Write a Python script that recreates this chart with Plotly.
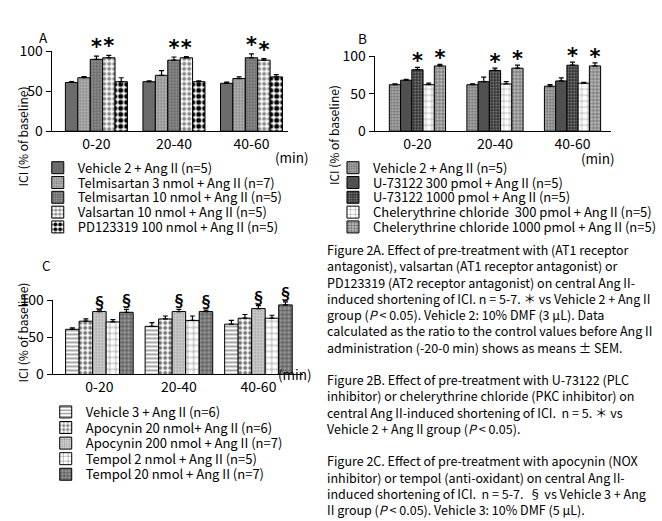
import plotly.graph_objects as go

W, H = 662, 521
FONT = "Noto Sans CJK JP"

periods = ["0-20", "20-40", "40-60"]

# Panel A
a_names = ["Vehicle 2 + Ang II (n=5)", "Telmisartan 3 nmol + Ang II (n=7)",
           "Telmisartan 10 nmol + Ang II (n=5)", "Valsartan 10 nmol + Ang II (n=5)",
           "PD123319 100 nmol + Ang II (n=5)"]
a_means = [[61, 62, 60], [67, 70, 66], [90, 89, 92], [92, 92, 89], [62, 62, 68]]
a_sem = [[1, 1, 1.5], [1.5, 6, 2], [4, 4, 5], [3, 1.5, 2], [5, 1, 3]]
a_sig = [2, 3]

# Panel B
b_names = ["Vehicle 2 + Ang II (n=5)", "U-73122 300 pmol + Ang II (n=5)",
           "U-73122 1000 pmol + Ang II (n=5)", "Chelerythrine chloride  300 pmol + Ang II (n=5)",
           "Chelerythrine chloride 1000 pmol + Ang II (n=5)"]
b_means = [[62, 62, 60], [68, 66, 67], [82, 81, 88], [62, 63, 64], [87, 84, 87]]
b_sem = [[1, 1, 2], [1, 6, 4], [3, 3, 4], [2, 3, 1], [2, 4, 4]]
b_sig = [2, 4]

# Panel C
c_names = ["Vehicle 3 + Ang II (n=6)", "Apocynin 20 nmol+ Ang II (n=6)",
           "Apocynin 200 nmol + Ang II (n=7)", "Tempol 2 nmol + Ang II (n=5)",
           "Tempol 20 nmol + Ang II (n=7)"]
c_means = [[61, 65, 68], [72, 75, 76], [85, 85, 89], [71, 73, 76], [84, 85, 94]]
c_sem = [[2, 5, 5], [3, 4, 5], [1, 3, 4], [3, 6, 4], [4, 2, 4]]
c_sig = [2, 4]

yticks = [0, 50, 100]

caption_lines = [
    "Figure 2A. Effect of pre-treatment with (AT1 receptor",
    "antagonist), valsartan (AT1 receptor antagonist) or",
    "PD123319 (AT2 receptor antagonist) on central Ang II-",
    "induced shortening of ICI. n = 5-7. ＊ vs Vehicle 2 + Ang II",
    "group (<i>P</i> &lt; 0.05). Vehicle 2: 10% DMF (3 μL). Data",
    "calculated as the ratio to the control values before Ang II",
    "administration (-20-0 min) shows as means ± SEM.",
    " ",
    "Figure 2B. Effect of pre-treatment with U-73122 (PLC",
    "inhibitor) or chelerythrine chloride (PKC inhibitor) on",
    "central Ang II-induced shortening of ICI.  n = 5. ＊ vs",
    "Vehicle 2 + Ang II group (<i>P</i> &lt; 0.05).",
    " ",
    "Figure 2C. Effect of pre-treatment with apocynin (NOX",
    "inhibitor) or tempol (anti-oxidant) on central Ang II-",
    "induced shortening of ICI.  n = 5-7.  § vs Vehicle 3 + Ang",
    "II group (<i>P</i> &lt; 0.05). Vehicle 3: 10% DMF (5 μL).",
]


def px(x):
    return x / W


def py(y):
    return 1 - y / H


def pat(shape="", bg="white", fg="black", size=6, sol=0.3):
    return dict(shape=shape, bgcolor=bg, fgcolor=fg, size=size, solidity=sol, fillmode="replace")


a_styles = [
    ("#6c6c6c", pat("", "#6c6c6c", "#6c6c6c")),
    ("#a8a8a8", pat(".", "#b4b4b4", "#7a7a7a", 3, 0.35)),
    ("#707070", pat(".", "#6a6a6a", "#a0a0a0", 3, 0.35)),
    ("#ffffff", pat(".", "#ffffff", "#8a8a8a", 5, 0.5)),
    ("#ffffff", pat(".", "#ffffff", "#000000", 6, 0.55)),
]
b_styles = [
    ("#a0a0a0", pat(".", "#a8a8a8", "#666666", 3, 0.35)),
    ("#505050", pat("", "#505050", "#505050")),
    ("#333333", pat(".", "#333333", "#8a8a8a", 3, 0.3)),
    ("#ffffff", pat("+", "#ffffff", "#7a7a7a", 6, 0.15)),
    ("#a0a0a0", pat("+", "#b8b8b8", "#555555", 3.5, 0.3)),
]
c_styles = [
    ("#ffffff", pat("-", "#ffffff", "#6a6a6a", 4, 0.3)),
    ("#ffffff", pat(".", "#ffffff", "#777777", 5, 0.45)),
    ("#cccccc", pat(".", "#d2d2d2", "#9a9a9a", 3, 0.35)),
    ("#ffffff", pat("+", "#ffffff", "#555555", 6, 0.15)),
    ("#909090", pat("+", "#9a9a9a", "#333333", 4, 0.3)),
]

star_font = dict(family="DejaVu Sans", size=21, color="black", weight="bold")

panels = [
    dict(names=a_names, means=a_means, sem=a_sem, sig=a_sig, styles=a_styles, sym="*",
         sym_font=star_font, sym_off=-4,
         xdom=(52, 290), ydom=(125, 42), xr=(-0.577, 2.474), w=0.16,
         leg_x=38, leg_y0=163, leg_dy=15.4),
    dict(names=b_names, means=b_means, sem=b_sem, sig=b_sig, styles=b_styles, sym="*",
         sym_font=star_font, sym_off=-8,
         xdom=(377, 615), ydom=(125, 47), xr=(-0.551, 2.5), w=0.145,
         leg_x=335, leg_y0=163, leg_dy=15.4),
    dict(names=c_names, means=c_means, sem=c_sem, sig=c_sig, styles=c_styles, sym="§",
         sym_font=dict(family=FONT, size=15, color="black", weight="bold"), sym_off=-1,
         xdom=(53, 305), ydom=(378, 301), xr=(-0.5875, 2.5625), w=0.17,
         leg_x=46, leg_y0=417, leg_dy=16.2),
]

fig = go.Figure()
layout = dict(width=W, height=H, margin=dict(l=0, r=0, t=0, b=0),
              paper_bgcolor="white", plot_bgcolor="white", barmode="overlay",
              font=dict(family=FONT, color="black", size=12.5), showlegend=True)

leg_idx = 0
for p, pn in enumerate(panels):
    sfx = "" if p == 0 else str(p + 1)
    w = pn["w"]
    for k in range(5):
        leg_idx += 1
        lname = "legend" if leg_idx == 1 else f"legend{leg_idx}"
        color, pattern = pn["styles"][k]
        xs = [i + (k - 2) * w for i in range(len(periods))]
        fig.add_trace(go.Bar(
            x=xs, y=pn["means"][k], width=w, name=pn["names"][k],
            xaxis="x" + sfx, yaxis="y" + sfx, legend=lname,
            marker=dict(color=color, line=dict(color="black", width=1), pattern=pattern),
            error_y=dict(type="data", array=pn["sem"][k], arrayminus=[0] * 3, symmetric=False,
                         color="black", thickness=1.2, width=2.5),
            hoverinfo="skip"))
        layout[lname] = dict(x=px(pn["leg_x"]), y=py(pn["leg_y0"] + k * pn["leg_dy"]),
                             xanchor="left", yanchor="middle", bgcolor="rgba(0,0,0,0)",
                             borderwidth=0, font=dict(family=FONT, size=13, color="black"))
    for k in pn["sig"]:
        xs = [i + (k - 2) * w for i in range(len(periods))]
        ys = [m + e + pn["sym_off"] for m, e in zip(pn["means"][k], pn["sem"][k])]
        fig.add_trace(go.Scatter(
            x=xs, y=ys, mode="text", text=[pn["sym"]] * 3, textposition="top center",
            textfont=pn["sym_font"], xaxis="x" + sfx, yaxis="y" + sfx,
            showlegend=False, cliponaxis=False, hoverinfo="skip"))
    x0, x1 = pn["xdom"]
    yb, yt = pn["ydom"]
    layout["xaxis" + sfx] = dict(domain=[px(x0), px(x1)], range=list(pn["xr"]),
                                 tickvals=[0, 1, 2], ticktext=periods, ticks="",
                                 showline=True, linecolor="black", linewidth=1.3,
                                 showgrid=False, zeroline=False, anchor="y" + sfx,
                                 tickfont=dict(family=FONT, size=14, color="black"))
    layout["yaxis" + sfx] = dict(domain=[py(yb), py(yt)], range=[0, 100], tickvals=yticks,
                                 ticks="outside", ticklen=5, tickwidth=1.3, tickcolor="black",
                                 showline=True, linecolor="black", linewidth=1.3,
                                 showgrid=False, zeroline=False, anchor="x" + sfx,
                                 tickfont=dict(family=FONT, size=14, color="black"))

ann = []
for lab, (x, y) in zip(["A", "B", "C"], [(37, 15), (365, 16), (40, 264)]):
    ann.append(dict(text=lab, x=px(x), y=py(y), xref="paper", yref="paper", showarrow=False,
                    font=dict(family=FONT, size=13.5, color="black")))
for (x, y) in [(294, 139), (621, 140), (297, 390)]:
    ann.append(dict(text="(min)", x=px(x), y=py(y), xref="paper", yref="paper", showarrow=False,
                    font=dict(family=FONT, size=13.5, color="black")))
for (x, y) in [(12, 76), (335, 75), (12, 334)]:
    ann.append(dict(text="ICI (% of baseline)", x=px(x), y=py(y), xref="paper", yref="paper",
                    showarrow=False, textangle=-90, font=dict(family=FONT, size=12, color="black")))
ann.append(dict(text="<br>".join(caption_lines), x=px(327), y=py(236.5), xref="paper", yref="paper",
                xanchor="left", yanchor="top", align="left", showarrow=False,
                font=dict(family=FONT, size=12.5, color="black")))
layout["annotations"] = ann

fig.update_layout(**layout)
fig.write_html("out.html", config={"displayModeBar": False},
               post_script="document.body.style.margin='0';document.body.style.padding='0';")
